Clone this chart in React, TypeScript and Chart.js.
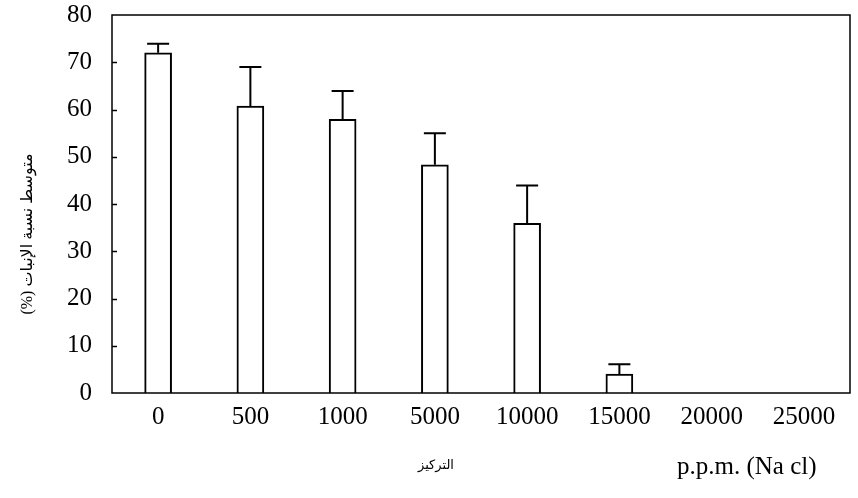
import React, { useEffect, useRef } from "react";
import { Chart, registerables } from "chart.js";

Chart.register(...registerables);

const categories = ["0", "500", "1000", "5000", "10000", "15000", "20000", "25000"];
const germination = [72, 60.7, 57.9, 48.3, 35.9, 4, 0, 0];
const errorUp = [1.9, 8.3, 6, 6.7, 8, 2.1, 0, 0];
const yTitle = "متوسط نسبة الإنبات (%)";
const xTitleArabic = "التركيز";
const xTitleLatin = "p.p.m. (Na cl)";

const SERIF = "'Liberation Serif', 'Times New Roman', serif";
const ARABIC = "'Liberation Serif', 'DejaVu Sans', serif";

const decorPlugin = {
  id: "decor",
  afterDatasetsDraw(chart: any) {
    const { ctx, chartArea } = chart;
    const x = chart.scales.x;
    const y = chart.scales.y;
    ctx.save();
    ctx.strokeStyle = "#000";
    // error bars
    ctx.lineWidth = 2;
    germination.forEach((v, i) => {
      const e = errorUp[i];
      if (!v || !e) return;
      const cx = x.getPixelForValue(i);
      const y0 = y.getPixelForValue(v);
      const y1 = y.getPixelForValue(v + e);
      ctx.beginPath();
      ctx.moveTo(cx, y0);
      ctx.lineTo(cx, y1);
      ctx.moveTo(cx - 11, y1);
      ctx.lineTo(cx + 11, y1);
      ctx.stroke();
    });
    // frame
    ctx.lineWidth = 1.5;
    ctx.strokeRect(chartArea.left, chartArea.top, chartArea.right - chartArea.left, chartArea.bottom - chartArea.top);
    // inward y ticks
    for (let v = 10; v < 80; v += 10) {
      const py = Math.round(y.getPixelForValue(v)) + 0.5;
      ctx.beginPath();
      ctx.moveTo(chartArea.left, py);
      ctx.lineTo(chartArea.left + 5, py);
      ctx.stroke();
    }
    // y title (rotated)
    ctx.fillStyle = "#000";
    ctx.save();
    ctx.translate(28, 234);
    ctx.rotate(-Math.PI / 2);
    ctx.direction = "rtl";
    ctx.font = `16px ${ARABIC}`;
    ctx.textAlign = "center";
    ctx.textBaseline = "middle";
    ctx.fillText(yTitle, 0, 0);
    ctx.restore();
    // x titles
    ctx.save();
    ctx.direction = "rtl";
    ctx.font = `13px ${ARABIC}`;
    ctx.textAlign = "center";
    ctx.textBaseline = "middle";
    ctx.fillText(xTitleArabic, 436, 466);
    ctx.restore();
    ctx.font = `25px ${SERIF}`;
    ctx.textAlign = "left";
    ctx.textBaseline = "middle";
    ctx.fillText(xTitleLatin, 677, 467);
    ctx.restore();
  },
};

export default function App() {
  const ref = useRef<HTMLCanvasElement>(null);
  useEffect(() => {
    if (!ref.current) return;
    const chart = new Chart(ref.current, {
      type: "bar",
      data: {
        labels: categories,
        datasets: [
          {
            data: germination,
            backgroundColor: "#fff",
            borderColor: "#000",
            borderWidth: 2,
            barThickness: 27,
          },
        ],
      },
      options: {
        animation: false,
        responsive: false,
        layout: { padding: { top: 15, right: 8, left: 0, bottom: 0 } },
        plugins: { legend: { display: false }, tooltip: { enabled: false } },
        scales: {
          x: {
            grid: { display: false, drawTicks: false },
            border: { display: false },
            ticks: { color: "#000", font: { family: SERIF, size: 25 }, padding: 9, maxRotation: 0, autoSkip: false },
            afterFit: (s: any) => {
              s.height = 105;
              s.paddingLeft = 0;
              s.paddingRight = 0;
            },
          },
          y: {
            min: 0,
            max: 80,
            grid: { display: false, drawTicks: false },
            border: { display: false },
            ticks: { stepSize: 10, color: "#000", font: { family: SERIF, size: 25 }, padding: 20 },
            afterFit: (s: any) => {
              s.width = 112;
              s.paddingTop = 0;
              s.paddingBottom = 0;
            },
          },
        },
      },
      plugins: [decorPlugin],
    });
    return () => chart.destroy();
  }, []);
  return (
    <div style={{ position: "absolute", left: 0, top: 0, width: 858, height: 498, background: "#fff" }}>
      <canvas ref={ref} width={858} height={498} />
    </div>
  );
}
